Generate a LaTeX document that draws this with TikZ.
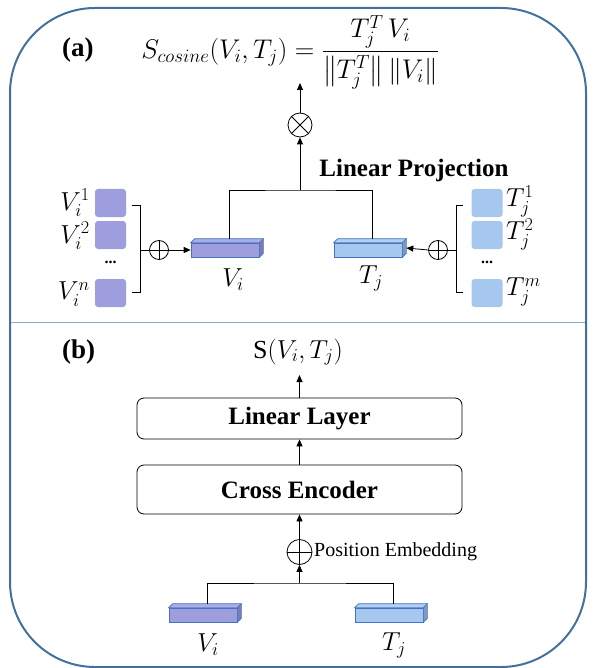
\RequirePackage{fix-cm}
\documentclass[tikz,border=0pt]{standalone}
\usepackage{amsmath}
\usepackage{fontspec}
\setmainfont{Liberation Serif}
\usetikzlibrary{arrows.meta,calc}
\definecolor{frameblue}{HTML}{41719C}
\definecolor{divider}{HTML}{8FA9C8}
\definecolor{barblue}{HTML}{4472C4}
\definecolor{vfill}{HTML}{9E9EDE}
\definecolor{vside}{HTML}{7C7CB6}
\definecolor{tfill}{HTML}{A6C8EE}
\definecolor{tside}{HTML}{7E9BBF}
\newcommand\barfaces[3]{%
  \filldraw[draw=barblue, fill=#2, line width=0.6pt] (#1.north west) -- ++(4,-4) -- ($(#1.north east)+(4,-4)$) -- (#1.north east) -- cycle;
  \filldraw[draw=barblue, fill=#3, line width=0.6pt] (#1.north east) -- ++(4,-4) -- ($(#1.south east)+(4,-4)$) -- (#1.south east) -- cycle;}
\tikzset{
  ln/.style={line width=0.8pt, black},
  arr/.style={ln, -{Triangle[length=7pt,width=6pt]}},
  circop/.style={draw, circle, inner sep=0pt, minimum size=#1, line width=0.8pt},
  vbar/.style={draw=barblue, fill=vfill, minimum width=68pt, minimum height=14pt, inner sep=0pt, line width=0.6pt},
  tbar/.style={draw=barblue, fill=tfill, minimum width=68pt, minimum height=14pt, inner sep=0pt, line width=0.6pt},
  vsq/.style={fill=vfill, rounded corners=3pt, minimum width=31pt, minimum height=28pt, inner sep=0pt},
  tsq/.style={fill=tfill, rounded corners=3pt, minimum width=31pt, minimum height=28pt, inner sep=0pt},
  mlbl/.style={inner sep=1pt, font=\fontsize{26}{30}\selectfont},
  formstyle/.style={inner sep=1pt, font=\fontsize{27}{32}\selectfont},
  bigbold/.style={inner sep=0pt, font=\fontsize{25}{30}\selectfont\bfseries},
  tagbold/.style={inner sep=0pt, font=\fontsize{27}{32}\selectfont\bfseries},
  layerbox/.style={draw, line width=0.8pt, rounded corners=7pt, minimum width=325pt, inner sep=0pt, font=\fontsize{25}{30}\selectfont\bfseries},
  dotsl/.style={inner sep=0pt, font=\fontsize{16}{16}\selectfont\bfseries}
}
\begin{document}
\begin{tikzpicture}[x=1pt,y=-1pt]
\useasboundingbox (0,0) rectangle (592,668);
\draw[frameblue, line width=2pt, rounded corners=85pt] (10,8) rectangle (586,667);
\draw[divider, line width=0.8pt] (11,322) -- (585,322);

% ---------- (a)
\node[tagbold, anchor=west] (taga) at (62,50) {(a)};
\node[formstyle] (formula) at (290,52) {$S_{cosine}(V_i,T_j)=\dfrac{T_j^T\,V_i}{\bigl\|T_j^T\bigr\|\,\|V_i\|}$};
\node[circop=24pt] (ot) at (300,125) {};
\draw[ln] (ot.north west) -- (ot.south east) (ot.north east) -- (ot.south west);
\coordinate (fa) at (300,83);
\draw[arr] (ot.north) -- (fa);
\node[bigbold] (lp) at (414,170) {Linear Projection};

\node[vbar] (va) at (225,250) {};
\barfaces{va}{vfill!85!white}{vside}
\node[tbar] (ta) at (368,250) {};
\barfaces{ta}{tfill!85!white}{tside}
\node[mlbl] (val) at (233,280) {$V_i$};
\node[mlbl] (tal) at (371,278) {$T_j$};

\coordinate (vatop) at ($(va.north)+(4,-4)$);
\coordinate (tatop) at ($(ta.north)+(4,-4)$);
\coordinate (ja) at (300,190);
\draw[ln] (vatop) |- (ja) -| (tatop);
\draw[arr] (ja) -- (ot.south);

% V inputs
\node[vsq] (v1) at (110.5,203) {};
\node[vsq] (v2) at (110.5,235) {};
\node[dotsl] (vd) at (110.5,262) {...};
\node[vsq] (vn) at (110.5,293) {};
\node[mlbl, anchor=east] (v1l) at (91,203) {$V_i^1$};
\node[mlbl, anchor=east] (v2l) at (91,236) {$V_i^2$};
\node[mlbl, anchor=east] (vnl) at (91,294) {$V_i^n$};
\draw[ln] (132,205) -- (140,205) -- (140,292) -- (132,292);
\node[circop=19pt] (opv) at (159,250) {};
\draw[ln] (opv.north) -- (opv.south) (opv.west) -- (opv.east);
\draw[ln] (140,250) -- (opv.west);
\draw[arr] (opv.east) -- (va.west);

% T inputs
\node[tsq] (t1) at (487,203) {};
\node[tsq] (t2) at (487,235) {};
\node[dotsl] (td) at (487,262) {...};
\node[tsq] (tm) at (487,293) {};
\node[mlbl, anchor=west] (t1l) at (505,201) {$T_j^1$};
\node[mlbl, anchor=west] (t2l) at (505,234) {$T_j^2$};
\node[mlbl, anchor=west] (tml) at (505,292) {$T_j^m$};
\draw[ln] (463,205) -- (456,205) -- (456,292) -- (463,292);
\node[circop=19pt] (opt) at (438,250) {};
\draw[ln] (opt.north) -- (opt.south) (opt.west) -- (opt.east);
\draw[ln] (456,250) -- (opt.east);
\draw[arr] (opt.west) -- ([xshift=4pt,yshift=2pt]ta.east);

% ---------- (b)
\node[tagbold, anchor=west] (tagb) at (62,352) {(b)};
\node[mlbl] (sout) at (298,352) {S$(V_i,T_j)$};
\node[layerbox, minimum height=41pt] (lin) at (299.5,418.5) {Linear Layer};
\node[layerbox, minimum height=49pt] (enc) at (299.5,489.5) {Cross Encoder};
\coordinate (stip) at (299.5,375);
\draw[arr] (lin.north) -- (stip);
\draw[arr] (enc.north) -- (lin.south);
\node[circop=25pt] (opb) at (299.5,552) {};
\draw[ln] (opb.north) -- (opb.south) (opb.west) -- (opb.east);
\draw[arr] (opb.north) -- (enc.south);
\node[inner sep=0pt, anchor=west, font=\fontsize{20}{22}\selectfont] (pe) at (314,552) {Position Embedding};

\node[vbar] (vb) at (203,615) {};
\barfaces{vb}{vfill!85!white}{vside}
\node[tbar] (tb) at (389,615) {};
\barfaces{tb}{tfill!85!white}{tside}
\node[mlbl] (vbl) at (208,645) {$V_i$};
\node[mlbl] (tbl) at (394,645) {$T_j$};
\coordinate (vbtop) at ($(vb.north)+(4,-4)$);
\coordinate (tbtop) at ($(tb.north)+(4,-4)$);
\coordinate (jb) at (299.5,583);
\draw[ln] (vbtop) |- (jb) -| (tbtop);
\draw[arr] (jb) -- (opb.south);
\end{tikzpicture}
\end{document}
